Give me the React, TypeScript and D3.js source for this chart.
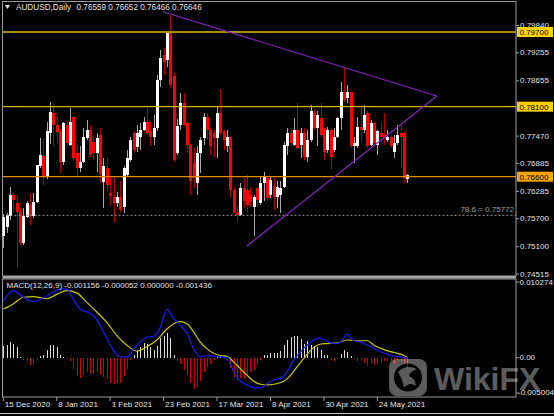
import React from "react";
import * as d3 from "d3";

// ---------- DATA ----------
const openP = [0.7532,0.7553,0.7575,0.7621,0.7603,0.7585,0.7518,0.7574,0.7600,0.7575,0.7606,0.7682,0.7705,0.7662,0.7753,0.7797,0.7771,0.7755,0.7692,0.7771,0.7728,0.7789,0.7710,0.7678,0.7692,0.7742,0.7760,0.7735,0.7710,0.7750,0.7648,0.7678,0.7625,0.7617,0.7603,0.7617,0.7596,0.7664,0.7696,0.7753,0.7724,0.7746,0.7760,0.7778,0.7757,0.7746,0.7764,0.7867,0.7920,0.7910,0.7967,0.7875,0.7710,0.7771,0.7817,0.7775,0.7728,0.7692,0.7646,0.7710,0.7743,0.7789,0.7760,0.7753,0.7743,0.7796,0.7757,0.7725,0.7746,0.7632,0.7585,0.7578,0.7635,0.7632,0.7621,0.7596,0.7635,0.7603,0.7646,0.7657,0.7621,0.7640,0.7617,0.7620,0.7639,0.7725,0.7753,0.7728,0.7760,0.7728,0.7753,0.7703,0.7739,0.7796,0.7764,0.7785,0.7764,0.7717,0.7760,0.7717,0.7746,0.7785,0.7842,0.7828,0.7842,0.7725,0.7725,0.7767,0.7760,0.7796,0.7728,0.7775,0.7728,0.7753,0.7750,0.7739,0.7746,0.7714,0.7732,0.7753,0.7753,0.76559];
const highP = [0.7580,0.7583,0.7639,0.7628,0.7620,0.7592,0.7592,0.7608,0.7625,0.7625,0.7686,0.7742,0.7742,0.7778,0.7821,0.7817,0.7790,0.7762,0.7778,0.7778,0.7807,0.7789,0.7728,0.7725,0.7764,0.7782,0.7771,0.7750,0.7753,0.7764,0.7700,0.7703,0.7660,0.7660,0.7628,0.7650,0.7682,0.7717,0.7746,0.7757,0.7771,0.7775,0.7789,0.7807,0.7775,0.7792,0.7878,0.7932,0.7935,0.7972,0.8007,0.7882,0.7783,0.7839,0.7839,0.7778,0.7730,0.7721,0.7725,0.7746,0.7796,0.7796,0.7764,0.7760,0.7810,0.7849,0.7760,0.7760,0.7746,0.7639,0.7600,0.7646,0.7657,0.7664,0.7639,0.7621,0.7639,0.7660,0.7671,0.7660,0.7660,0.7657,0.7650,0.7650,0.7735,0.7764,0.7760,0.7785,0.7817,0.7764,0.7764,0.7760,0.7814,0.7803,0.7800,0.7817,0.7764,0.7767,0.7764,0.7764,0.7789,0.7864,0.7892,0.7857,0.7842,0.7746,0.7789,0.7814,0.7814,0.7800,0.7782,0.7778,0.7760,0.7775,0.7796,0.7760,0.7750,0.7750,0.7771,0.7771,0.7757,0.76652];
const lowP = [0.7507,0.7539,0.7568,0.7585,0.7464,0.7514,0.7514,0.7571,0.7557,0.7571,0.7603,0.7678,0.7642,0.7655,0.7731,0.7725,0.7730,0.7667,0.7685,0.7725,0.7725,0.7693,0.7657,0.7671,0.7689,0.7739,0.7703,0.7695,0.7671,0.7646,0.7592,0.7628,0.7600,0.7564,0.7596,0.7585,0.7582,0.7660,0.7692,0.7714,0.7712,0.7718,0.7757,0.7750,0.7725,0.7728,0.7757,0.7853,0.7878,0.7896,0.7850,0.7692,0.7707,0.7760,0.7768,0.7710,0.7621,0.7636,0.7621,0.7668,0.7728,0.7739,0.7707,0.7703,0.7700,0.7750,0.7718,0.7714,0.7617,0.7582,0.7564,0.7575,0.7593,0.7585,0.7596,0.7532,0.7596,0.7600,0.7607,0.7607,0.7614,0.7589,0.7593,0.7582,0.7635,0.7707,0.7725,0.7725,0.7718,0.7700,0.7696,0.7692,0.7735,0.7760,0.7725,0.7746,0.7696,0.7710,0.7675,0.7714,0.7742,0.7760,0.7821,0.7817,0.7721,0.7689,0.7721,0.7735,0.7753,0.7721,0.7725,0.7728,0.7707,0.7735,0.7728,0.7735,0.7721,0.7700,0.7728,0.7678,0.7646,0.76466];
const closeP = [0.7574,0.7578,0.7621,0.7611,0.7585,0.7518,0.7575,0.7603,0.7575,0.7606,0.7685,0.7707,0.7662,0.7757,0.7799,0.7770,0.7755,0.7692,0.7775,0.7732,0.7778,0.7700,0.7678,0.7692,0.7746,0.7760,0.7707,0.7710,0.7743,0.7665,0.7682,0.7642,0.7618,0.7603,0.7617,0.7589,0.7678,0.7700,0.7739,0.7717,0.7753,0.7760,0.7778,0.7753,0.7746,0.7764,0.7867,0.7914,0.7905,0.7967,0.7857,0.7696,0.7768,0.7817,0.7771,0.7728,0.7650,0.7657,0.7710,0.7739,0.7789,0.7760,0.7725,0.7743,0.7796,0.7753,0.7739,0.7746,0.7632,0.7585,0.7578,0.7635,0.7607,0.7600,0.7607,0.7617,0.7610,0.7646,0.7660,0.7614,0.7653,0.7617,0.7639,0.7635,0.7728,0.7753,0.7732,0.7760,0.7721,0.7753,0.7703,0.7739,0.7800,0.7764,0.7793,0.7750,0.7714,0.7760,0.7703,0.7746,0.7785,0.7842,0.7824,0.7842,0.7725,0.7732,0.7767,0.7760,0.7792,0.7725,0.7775,0.7732,0.7757,0.7746,0.7743,0.7746,0.7725,0.7732,0.7750,0.7746,0.7657,0.76646];

const dateTickIdx = [0, 16, 32, 48, 64, 80, 96, 112];
const dateTickLabels = ["15 Dec 2020", "8 Jan 2021", "1 Feb 2021", "23 Feb 2021", "17 Mar 2021", "8 Apr 2021", "30 Apr 2021", "24 May 2021"];

const priceTicks = [0.79840, 0.79255, 0.78655, 0.78070, 0.77470, 0.76885, 0.76285, 0.75700, 0.75100, 0.74515];
const levelValues = [0.797, 0.781, 0.766];
const fiboValue = 0.75772;
const fiboLabel = "78.6 = 0.75772";

const upperTrend: [number, number][] = [[47.8, 0.80136], [129.8, 0.78329]];
const lowerTrend: [number, number][] = [[72.9, 0.75115], [129.8, 0.78329]];

const histValues = [0.00157,0.0017,0.0021,0.0019,0.0014,0.0001,-0.0003,-0.0004,-0.0010,-0.0010,-0.0003,0.0002,0.0003,0.0010,0.0017,0.0017,0.0014,0.0003,0.0001,-0.0002,-0.0005,-0.0016,-0.0025,-0.0028,-0.0023,-0.0020,-0.0022,-0.0022,-0.0020,-0.0023,-0.0026,-0.0029,-0.0034,-0.0036,-0.0034,-0.0035,-0.0025,-0.0016,-0.0003,0.0003,0.0009,0.0015,0.0020,0.0018,0.0014,0.0011,0.0016,0.0027,0.0029,0.0034,0.0027,0.0004,-0.0005,-0.0009,-0.0017,-0.0023,-0.0035,-0.0043,-0.0040,-0.0032,-0.0019,-0.0012,-0.0008,-0.0003,0.0002,0.0002,0.0001,-0.0003,-0.0014,-0.0026,-0.0030,-0.0028,-0.0029,-0.0023,-0.0019,-0.0017,-0.0010,-0.0003,0.0004,0.0004,0.0007,0.0007,0.0007,0.0009,0.0017,0.0024,0.0028,0.0030,0.0030,0.0026,0.0019,0.0022,0.0017,0.0016,0.0014,0.0011,0.0004,0.0004,-0.0003,-0.0004,-0.0002,0.0005,0.0011,0.0008,0.0002,-0.0002,-0.0005,-0.0005,-0.0007,-0.0011,-0.0009,-0.0010,-0.0008,-0.0007,-0.0005,-0.0004,-0.0004,-0.0008,-0.0003,-0.0005,-0.0009,-0.0014];

const macdIdx = [0,3,6,9,13,17,19,21,23,25,27,29,31,33,35,37,39,41,43,45,47,49,51,53,55,57,59,61,63,65,67,69,71,73,75,77,79,81,83,85,87,89,91,93,94.5,96,99,101,103,104.5,107,110,113,116,119,121];
const macdVals = [0.0077,0.0091,0.0082,0.0076,0.0084,0.0093,0.0093,0.0079,0.0066,0.0062,0.0057,0.0044,0.0026,0.0010,0.0001,0.0001,0.0012,0.0021,0.0028,0.0029,0.0041,0.0066,0.0053,0.0044,0.0033,0.0012,0.0001,0.0003,0.0002,0.0001,-0.0001,-0.0019,-0.0032,-0.0037,-0.0041,-0.0041,-0.0035,-0.0030,-0.0028,-0.0019,-0.0003,0.0008,0.0017,0.0024,0.0027,0.0024,0.0019,0.0021,0.0032,0.0024,0.0021,0.0015,0.0008,0.0003,0.0001,-0.0001];
const signalIdx = [0,3,6,9,13,16,19,22,25,28,31,34,37,40,43,46,49,51,53,55,57,59,61,63,65,67,69,71,73,75,77,79,81,84,86,88,90,92,94,96,100,103,106,109,111,114,117,120,121];
const signalVals = [0.0066,0.0073,0.0082,0.0083,0.0080,0.0086,0.0091,0.0088,0.0075,0.0062,0.0048,0.0030,0.0017,0.0009,0.0015,0.0024,0.0039,0.0046,0.0049,0.0046,0.0035,0.0021,0.0012,0.0006,0.0003,0.0002,-0.0006,-0.0015,-0.0024,-0.0032,-0.0036,-0.0037,-0.0036,-0.0032,-0.0024,-0.0012,-0.0001,0.0010,0.0017,0.0019,0.0020,0.0024,0.0023,0.0023,0.0017,0.0011,0.0007,0.0003,0.0000];

const macdTicks = [0.010274, 0, -0.005004];
const macdTickLabels = ["0.010274", "0.00", "-0.005004"];

const titleSymbol = "AUDUSD,Daily";
const titleValues = "0.76559 0.76652 0.76466 0.76646";
const macdTitle = "MACD(12,26,9) -0.001156 -0.000052 0.000000 -0.001436";
const watermarkText = "WikiFX";

// ---------- STYLE ----------
const FONT = "'Liberation Sans', Arial, sans-serif";
const TXT = "#e4e4e4";
const FRAME = "#9c9c9c";
const levelLine = ["#a88c00", "#d2b000", "#e08c00"];
const levelBox = ["#ffd400", "#f7cc00", "#f7a400"];
const levelWidth = [2, 1.2, 1.2];

export default function App() {
  const W = 554, H = 416;
  const left = 2.5, right = 516, mainTop = 1.5, mainBottom = 276, macdTop = 279, macdBottom = 397;

  const x = d3.scaleLinear().domain([0, 121]).range([3.3, 407.4]);
  const y = d3.scaleLinear().domain([0.74515, 0.7984]).range([274, 25.5]);
  const ym = d3.scaleLinear().domain([0, 0.010274]).range([357.7, 282]);

  const n = closeP.length;
  const idx = d3.range(n);

  const macdLine = d3.line<number>().x((i) => x(macdIdx[i])).y((i) => ym(macdVals[i])).curve(d3.curveMonotoneX);
  const signalLine = d3.line<number>().x((i) => x(signalIdx[i])).y((i) => ym(signalVals[i])).curve(d3.curveMonotoneX);
  const trend = d3.line<[number, number]>().x((d) => x(d[0])).y((d) => y(d[1]));

  return (
    <svg width={W} height={H} style={{ position: "absolute", left: 0, top: 0, background: "#000" }} fontFamily={FONT}>
      <defs>
        <clipPath id="mainClip"><rect x={left} y={mainTop} width={right - left} height={mainBottom - mainTop} /></clipPath>
        <clipPath id="macdClip"><rect x={left} y={macdTop} width={right - left} height={macdBottom - macdTop} /></clipPath>
      </defs>
      <rect x={0} y={0} width={W} height={H} fill="#000" />

      {/* frames */}
      <rect x={left} y={mainTop} width={right - left} height={mainBottom - mainTop} fill="none" stroke={FRAME} strokeWidth={1} />
      <rect x={left} y={276} width={right - left} height={2.5} fill="#a8a8a8" />
      <rect x={left} y={macdTop} width={right - left} height={macdBottom - macdTop} fill="none" stroke={FRAME} strokeWidth={1} />
      <line x1={0} x2={W} y1={413.5} y2={413.5} stroke="#c8c8c8" strokeWidth={1} />

      {/* candles */}
      <g clipPath="url(#mainClip)" shapeRendering="crispEdges">
        {idx.map((i) => {
          const bull = closeP[i] >= openP[i];
          const cx = Math.round(x(i));
          const top = y(Math.max(openP[i], closeP[i]));
          const bot = y(Math.min(openP[i], closeP[i]));
          return (
            <g key={i}>
              <rect x={cx} y={y(highP[i])} width={1} height={Math.max(1, y(lowP[i]) - y(highP[i]))} fill={bull ? "#a8a8a8" : "#b00000"} />
              <rect x={cx - 1} y={top} width={3} height={Math.max(1, bot - top)} fill={bull ? "#ffffff" : "#ff0000"} />
            </g>
          );
        })}
      </g>

      {/* levels */}
      <g clipPath="url(#mainClip)">
        {levelValues.map((v, k) => (
          <line key={k} x1={left} x2={right} y1={y(v)} y2={y(v)} stroke={levelLine[k]} strokeWidth={levelWidth[k]} />
        ))}
        <line x1={left} x2={right} y1={y(fiboValue)} y2={y(fiboValue)} stroke="#9a9a9a" strokeWidth={1} strokeDasharray="2,2" />
        <text x={514} y={y(fiboValue) - 3.5} fill="#a0a0a0" fontSize={8} textAnchor="end">{fiboLabel}</text>
        <path d={trend(upperTrend) || ""} stroke="#8a22c8" strokeWidth={1.1} fill="none" />
        <path d={trend(lowerTrend) || ""} stroke="#8a22c8" strokeWidth={1.1} fill="none" />
      </g>

      {/* title */}
      <path d="M5,5 L10,5 L7.5,9 Z" fill={TXT} />
      <text x={16} y={7.5} fill={TXT} fontSize={8.2} dominantBaseline="central">{titleSymbol}</text>
      <text x={76.5} y={7.5} fill={TXT} fontSize={8.2} dominantBaseline="central">{titleValues}</text>

      {/* price axis */}
      {priceTicks.map((v, k) => (
        <g key={k}>
          <line x1={right} x2={right + 3} y1={y(v)} y2={y(v)} stroke={FRAME} />
          <text x={520} y={y(v)} fill={TXT} fontSize={8} dominantBaseline="central">{v.toFixed(5)}</text>
        </g>
      ))}
      {levelValues.map((v, k) => (
        <g key={k}>
          <rect x={517} y={y(v) - 5} width={36} height={10} fill={levelBox[k]} />
          <text x={519.5} y={y(v) + 0.3} fill="#000" fontSize={8} dominantBaseline="central">{v.toFixed(5)}</text>
        </g>
      ))}

      {/* MACD */}
      <g clipPath="url(#macdClip)">
        <g shapeRendering="crispEdges">
          {idx.map((i) => {
            const v = histValues[i];
            const y0 = ym(0), y1 = ym(v);
            return (
              <rect key={i} x={Math.round(x(i))} y={Math.min(y0, y1)} width={1} height={Math.max(0.5, Math.abs(y1 - y0))} fill={v >= 0 ? "#dcdcdc" : "#d00000"} />
            );
          })}
        </g>
        <path d={signalLine(d3.range(signalIdx.length)) || ""} stroke="#c8c800" strokeWidth={1.2} fill="none" />
        <path d={macdLine(d3.range(macdIdx.length)) || ""} stroke="#1a1aff" strokeWidth={1.2} fill="none" />
      </g>
      <text x={6.5} y={285} fill={TXT} fontSize={8} dominantBaseline="central">{macdTitle}</text>
      {macdTicks.map((v, k) => (
        <g key={k}>
          <line x1={right} x2={right + 3} y1={Math.min(ym(v), 393)} y2={Math.min(ym(v), 393)} stroke={FRAME} />
          <text x={v < 0 ? 518 : 519.5} y={Math.min(ym(v), 392)} fill={TXT} fontSize={8} dominantBaseline="central">{macdTickLabels[k]}</text>
        </g>
      ))}

      {/* date axis */}
      {dateTickIdx.map((d, k) => (
        <g key={k}>
          <line x1={x(d)} x2={x(d)} y1={macdBottom} y2={macdBottom + 4} stroke={FRAME} />
          <text x={x(d) + 1.5} y={404.5} fill={TXT} fontSize={8} dominantBaseline="central">{dateTickLabels[k]}</text>
        </g>
      ))}

      {/* watermark */}
      <g opacity={0.36}>
        <rect x={389} y={359} width={38} height={37} rx={8} fill="#ffffff" />
        <circle cx={408} cy={377.5} r={14} fill="#000" />
        <path d="M398,372 Q406,364 417,369 Q410,371 409,376 Q415,378 416,386 Q409,381 404,388 Q403,380 398,372 Z" fill="#ffffff" />
        <text x={434} y={390} fill="#ffffff" fontSize={32} fontWeight="bold">{watermarkText}</text>
      </g>
    </svg>
  );
}
